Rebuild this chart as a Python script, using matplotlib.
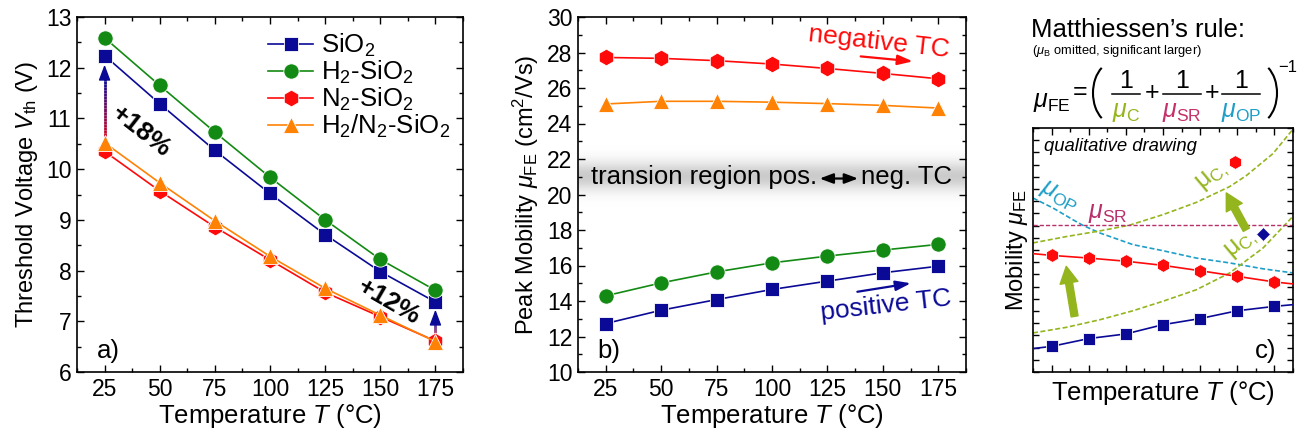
import numpy as np
import matplotlib
matplotlib.use('Agg')
import matplotlib.pyplot as plt
from matplotlib.collections import LineCollection
from matplotlib.colors import LinearSegmentedColormap
from matplotlib.lines import Line2D
from matplotlib.patches import Arc
from matplotlib.ticker import MultipleLocator

plt.rcParams['font.family'] = ['Liberation Sans', 'DejaVu Sans']
plt.rcParams['mathtext.fontset'] = 'custom'
plt.rcParams['mathtext.rm'] = 'Liberation Sans'
plt.rcParams['mathtext.it'] = 'Liberation Sans:italic'
plt.rcParams['mathtext.bf'] = 'Liberation Sans:bold'

# ---- data ----
temps = [25, 50, 75, 100, 125, 150, 175]

# a) threshold voltage (V)
vth_sio2 = [12.24, 11.29, 10.37, 9.52, 8.71, 7.98, 7.38]
vth_h2 = [12.59, 11.65, 10.73, 9.84, 9.00, 8.22, 7.61]
vth_n2 = [10.35, 9.57, 8.86, 8.21, 7.57, 7.09, 6.61]
vth_h2n2 = [10.52, 9.73, 8.98, 8.28, 7.65, 7.12, 6.60]

# b) peak mobility (cm2/Vs)
mu_sio2 = [12.73, 13.48, 14.08, 14.65, 15.12, 15.59, 15.96]
mu_h2 = [14.29, 15.02, 15.64, 16.15, 16.53, 16.87, 17.19]
mu_n2 = [27.72, 27.67, 27.54, 27.35, 27.10, 26.82, 26.52]
mu_h2n2 = [25.10, 25.25, 25.25, 25.20, 25.12, 25.02, 24.87]

# c) qualitative drawing (arbitrary units 0..10)
c_edge_x = [12.5, 187.5]
q_red = [4.78, 4.67, 4.54, 4.37, 4.15, 3.92, 3.69]
q_red_edges = [4.85, 3.61]
q_blue = [1.05, 1.37, 1.56, 1.94, 2.19, 2.51, 2.69]
q_blue_edges = [0.96, 2.76]
mu_op_x = [12.5, 26, 39.4, 46.1, 57.4, 79.8, 100, 122.4, 144.9, 167.3, 187.5]
mu_op_y = [7.13, 6.72, 6.24, 6.01, 5.70, 5.22, 4.97, 4.67, 4.47, 4.23, 4.06]
mu_chi_x = [12.5, 34.9, 57.4, 77.6, 100, 122.4, 144.9, 156.1, 174, 187.5]
mu_chi_y = [5.29, 5.55, 5.78, 6.02, 6.45, 6.95, 7.60, 8.05, 8.95, 9.95]
mu_clo_x = [12.5, 34.9, 57.4, 79.8, 100, 122.4, 144.9, 167.3, 187.5]
mu_clo_y = [1.60, 1.83, 2.14, 2.51, 2.90, 3.37, 4.06, 5.08, 6.38]
mu_sr_level = 6.01
lone_red = (148.2, 8.61)
lone_blue = (167.3, 5.66)

labels = ['SiO$_2$', 'H$_2$-SiO$_2$', 'N$_2$-SiO$_2$', 'H$_2$/N$_2$-SiO$_2$']
navy = '#0a0a96'
green = '#138a13'
red = '#ff0a0a'
orange = '#ff8205'
olive = '#94b51e'
pink = '#b8306a'
cyan = '#1e9ec8'
markers = ['s', 'o', 'h', '^']
colors = [navy, green, red, orange]
msizes = [10, 11, 12, 12]

FS = 18.5   # x labels, legend, panel letters
YFS = 17    # y labels
W, H = 1306, 438
fig = plt.figure(figsize=(W / 100, H / 100), dpi=100)
ax_a = fig.add_axes([77 / W, 1 - 372 / H, 386 / W, 355 / H])
ax_b = fig.add_axes([578 / W, 1 - 372 / H, 388 / W, 355 / H])
ax_c = fig.add_axes([1033 / W, 1 - 372 / H, 260 / W, 244 / H])


def style(ax):
    ax.tick_params(which='both', direction='in', top=True, right=True,
                   labelsize=16.5, width=1, pad=4)
    ax.tick_params(which='major', length=5)
    ax.tick_params(which='minor', length=3)
    for s in ax.spines.values():
        s.set_linewidth(1.2)
    ax.set_xlim(12.5, 187.5)
    ax.xaxis.set_major_locator(MultipleLocator(25))
    ax.xaxis.set_minor_locator(MultipleLocator(12.5))
    ax.set_xlabel('Temperature $T$ (°C)', fontsize=FS, labelpad=1)


def grad_arrow(ax, x, y0, y1, head):
    cmap = LinearSegmentedColormap.from_list('rn', [red, navy])
    ys = np.linspace(y0, y1 - head, 25)
    segs = [[(x, ys[i]), (x, ys[i + 1])] for i in range(len(ys) - 1)]
    ax.add_collection(LineCollection(segs, colors=cmap(np.linspace(0, 1, len(segs))),
                                     linewidths=2, zorder=2))
    ax.annotate('', xy=(x, y1), xytext=(x, y1 - head),
                arrowprops=dict(arrowstyle='-|>,head_width=0.3,head_length=0.8',
                                color=navy, lw=1, shrinkA=0, shrinkB=0,
                                mutation_scale=12), zorder=2)


# ---- a) ----
style(ax_a)
for ys, c, m, ms, lab in zip([vth_sio2, vth_h2, vth_n2, vth_h2n2], colors, markers, msizes, labels):
    ax_a.plot(temps, ys, color=c, marker=m, ms=ms, lw=1.2, mec='white', mew=0.6,
              label=lab, zorder=3)
ax_a.set_ylim(6, 13)
ax_a.yaxis.set_major_locator(MultipleLocator(1))
ax_a.yaxis.set_minor_locator(MultipleLocator(0.5))
ax_a.set_ylabel('Threshold Voltage $V_{\\rm th}$ (V)', fontsize=YFS, labelpad=4)
grad_arrow(ax_a, temps[0], vth_n2[0], vth_sio2[0] - 0.18, 0.26)
grad_arrow(ax_a, temps[-1], vth_n2[-1], vth_sio2[-1] - 0.15, 0.24)
ax_a.text(41.5, 10.75, '+18%', fontsize=19, fontweight='bold', rotation=-38,
          ha='center', va='center')
ax_a.text(154, 7.38, '+12%', fontsize=19, fontweight='bold', rotation=-30,
          ha='center', va='center')
ax_a.text(21.4, 6.27, 'a)', fontsize=FS, va='baseline')
ax_a.legend(loc='upper right', frameon=False, fontsize=FS, handlelength=1.75,
            handletextpad=0.3, labelspacing=0.0, borderaxespad=0.1,
            bbox_to_anchor=(1.0, 0.995))

# ---- b) ----
style(ax_b)
for ys, c, m, ms in zip([mu_sio2, mu_h2, mu_n2, mu_h2n2], colors, markers, msizes):
    ax_b.plot(temps, ys, color=c, marker=m, ms=ms, lw=1.2, mec='white', mew=0.6, zorder=3)
yy = np.linspace(18.6, 23.4, 200)
prof = np.exp(-((yy - 21.0) / 0.8) ** 2)
band = np.zeros((len(yy), 1, 4))
band[..., :3] = 0.55
band[:, 0, 3] = 0.45 * prof
ax_b.imshow(band, extent=[12.5, 187.5, 18.6, 23.4], origin='lower', aspect='auto',
            zorder=0, interpolation='bilinear')
ax_b.set_xlim(12.5, 187.5)
ax_b.set_ylim(10, 30)
ax_b.yaxis.set_major_locator(MultipleLocator(2))
ax_b.yaxis.set_minor_locator(MultipleLocator(1))
ax_b.set_ylabel('Peak Mobility $\\mu_{\\rm FE}$ (cm$^2$/Vs)', fontsize=YFS, labelpad=4)
ax_b.text(120.5, 21.0, 'transion region pos.', fontsize=FS, ha='right', va='center')
ax_b.text(140.2, 21.0, 'neg. TC', fontsize=FS, ha='left', va='center')
ax_b.annotate('', xy=(138.8, 20.9), xytext=(121.5, 20.9),
              arrowprops=dict(arrowstyle='<|-|>,head_width=0.3,head_length=0.8',
                              color='black', lw=1.6, shrinkA=0, shrinkB=0, mutation_scale=10))
ax_b.text(148, 28.6, 'negative TC', color=red, fontsize=19, rotation=-6.5,
          ha='center', va='center')
ax_b.annotate('', xy=(163.5, 27.5), xytext=(140, 27.78),
              arrowprops=dict(arrowstyle='-|>,head_width=0.3,head_length=0.9',
                              color=red, lw=1.6, shrinkA=0, shrinkB=0, mutation_scale=10))
ax_b.text(151.5, 13.75, 'positive TC', color=navy, fontsize=19, rotation=6.5,
          ha='center', va='center')
ax_b.annotate('', xy=(162.6, 15.0), xytext=(138.5, 14.52),
              arrowprops=dict(arrowstyle='-|>,head_width=0.3,head_length=0.9',
                              color=navy, lw=1.6, shrinkA=0, shrinkB=0, mutation_scale=10))
ax_b.text(21.1, 10.78, 'b)', fontsize=FS, va='baseline')

# ---- c) ----
style(ax_c)
ax_c.set_ylim(0, 10)
ax_c.yaxis.set_major_locator(MultipleLocator(0.5))
ax_c.tick_params(which='major', axis='y', length=4)
ax_c.tick_params(labelleft=False, labelbottom=False)
ax_c.set_ylabel('Mobility $\\mu_{\\rm FE}$', fontsize=YFS, labelpad=2)
ax_c.plot(mu_op_x, mu_op_y, color=cyan, ls=(0, (3, 1.5)), lw=1.2, zorder=2)
ax_c.plot(mu_chi_x, mu_chi_y, color=olive, ls=(0, (3, 1.5)), lw=1.2, zorder=2)
ax_c.plot(mu_clo_x, mu_clo_y, color=olive, ls=(0, (3, 1.5)), lw=1.2, zorder=2)
ax_c.axhline(mu_sr_level, color=pink, ls=(0, (3, 1.5)), lw=1.0, zorder=2)
ax_c.plot([c_edge_x[0]] + temps + [c_edge_x[1]],
          [q_red_edges[0]] + q_red + [q_red_edges[1]],
          color=red, lw=1.2, zorder=3)
ax_c.plot(temps, q_red, color=red, marker='h', ms=10, lw=0, mec='white', mew=0.6, zorder=4)
ax_c.plot([c_edge_x[0]] + temps + [c_edge_x[1]],
          [q_blue_edges[0]] + q_blue + [q_blue_edges[1]],
          color=navy, lw=1.2, zorder=3)
ax_c.plot(temps, q_blue, color=navy, marker='s', ms=8, lw=0, mec='white', mew=0.6, zorder=4)
ax_c.plot(*lone_red, color=red, marker='h', ms=10, mec='white', mew=0.6, zorder=5)
ax_c.plot(*lone_blue, color=navy, marker='D', ms=7, mec='white', mew=0.6, zorder=5)
for base, tip in [((40.5, 2.28), (34.9, 4.33)), ((156.1, 5.83), (142.6, 7.34))]:
    ax_c.annotate('', xy=tip, xytext=base,
                  arrowprops=dict(arrowstyle='simple,head_width=0.65,head_length=0.6,tail_width=0.25',
                                  color=olive, shrinkA=0, shrinkB=0, mutation_scale=20),
                  zorder=6)
ax_c.text(20, 9.25, 'qualitative drawing', fontsize=13.3, style='italic', va='center')
ax_c.text(30.5, 7.2, '$\\mu_{\\rm OP}$', color=cyan, fontsize=18, rotation=-28,
          ha='center', va='center')
ax_c.text(63, 6.52, '$\\mu_{\\rm SR}$', color=pink, fontsize=18, ha='center', va='center')
ax_c.text(132.5, 8.02, 'μ$_{\\rm C,}$', color=olive, fontsize=18, rotation=40,
          ha='center', va='center')
ax_c.text(152, 5.22, 'μ$_{\\rm C,}$', color=olive, fontsize=18, rotation=40,
          ha='center', va='center')
ax_c.text(169, 0.85, 'c)', fontsize=FS, ha='center', va='center')


# ---- Matthiessen's rule header (figure pixel positions) ----
def ft(xp, yp, s, **kw):
    return fig.text(xp / W, 1 - yp / H, s, **kw)


ft(1031, 37, 'Matthiessen\u2019s rule:', fontsize=18.5, va='baseline')
ft(1032, 54, '($\\mu_{\\rm B}$ omitted, significant larger)', fontsize=9.3, va='baseline')
ft(1033, 107, '$\\mu_{\\rm FE}$', fontsize=18, va='baseline')
ft(1080, 92, '=', fontsize=18, ha='center', va='center')
# large thin parentheses drawn as elliptic arcs (pixel sized, in inches)
for cx, t1, t2 in [(1114, 116, 244), (1256, -64, 64)]:
    fig.add_artist(Arc((cx / 100, (H - 93) / 100), 0.42, 0.62, theta1=t1, theta2=t2,
                       transform=fig.dpi_scale_trans, color='black', lw=1.5))
ft(1288, 67, '\u22121', fontsize=12, ha='center', va='center')
for xc, x0, x1, den, col in [(1126, 1112, 1140, '$\\mu_{\\rm C}$', olive),
                              (1182, 1163, 1201, '$\\mu_{\\rm SR}$', '#c4306a'),
                              (1241, 1222, 1260, '$\\mu_{\\rm OP}$', cyan)]:
    ft(xc, 88, '1', fontsize=18, ha='center', va='baseline')
    ft(xc, 117, den, fontsize=18, ha='center', va='baseline', color=col)
    fig.add_artist(Line2D([x0 / W, x1 / W], [1 - 94 / H, 1 - 94 / H],
                          transform=fig.transFigure, color='k', lw=1.1))
ft(1152, 93, '+', fontsize=18, ha='center', va='center')
ft(1212, 93, '+', fontsize=18, ha='center', va='center')

fig.savefig('out.png', dpi=100)
